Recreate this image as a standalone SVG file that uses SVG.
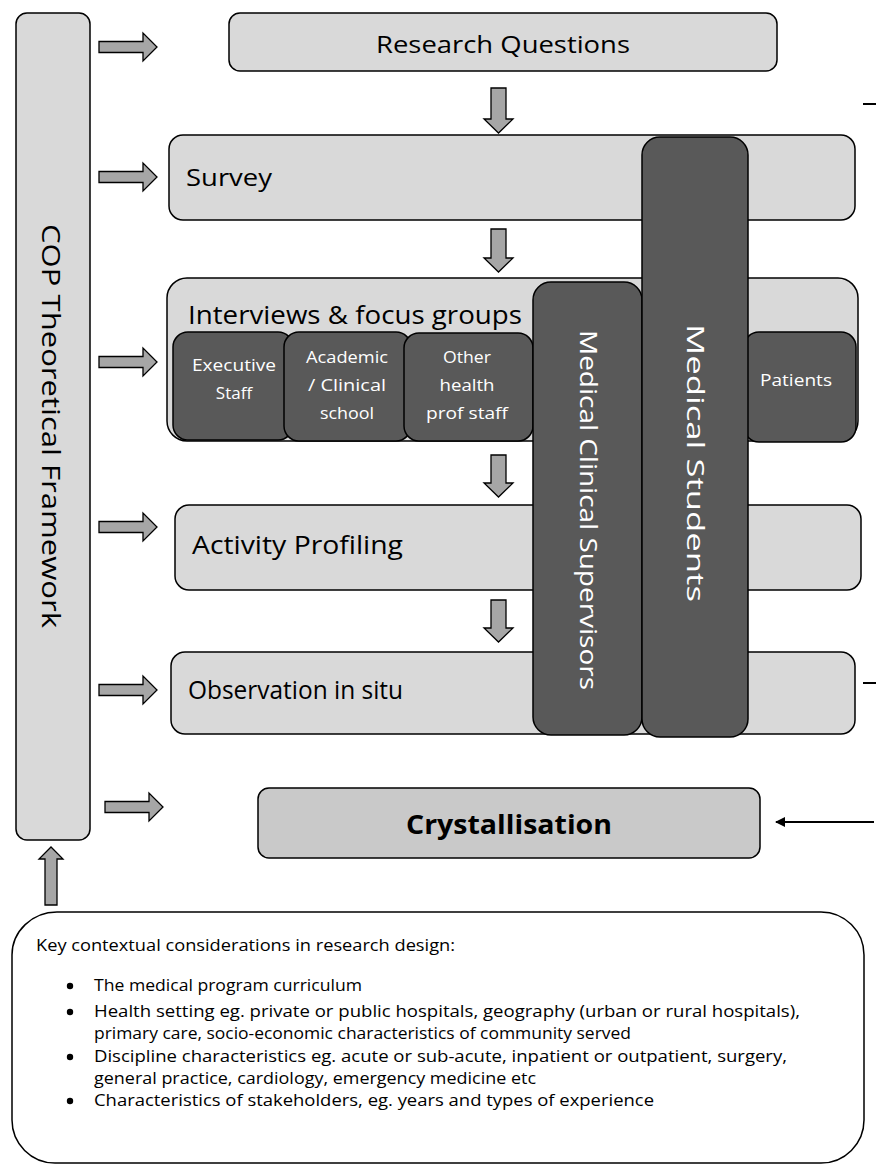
<svg xmlns="http://www.w3.org/2000/svg" width="876" height="1169" viewBox="0 0 876 1169">
<defs>
<style>
.lt{fill:#d9d9d9;stroke:#000;stroke-width:1.5}
.dk{fill:#595959;stroke:#000;stroke-width:1.5}
.ar{fill:#a6a6a6;stroke:#000;stroke-width:1.3}
.t{font-family:"Open Sans","Liberation Sans",sans-serif;fill:#000}
.w{font-family:"Open Sans","Liberation Sans",sans-serif;fill:#fff}
.ln{stroke:#000;stroke-width:2;fill:none}
</style>
<marker id="ah" viewBox="0 0 10 10" refX="9" refY="5" markerWidth="5" markerHeight="5" orient="auto" markerUnits="strokeWidth">
<path d="M0,0 L10,5 L0,10 z" fill="#000"/>
</marker>
</defs>
<rect width="876" height="1169" fill="#fff"/>

<g id="cop">
<rect class="lt" x="16" y="13" width="74" height="827" rx="11"/>
<text class="t" transform="translate(42,426) rotate(90)" font-size="25" text-anchor="middle" textLength="404" lengthAdjust="spacingAndGlyphs">COP Theoretical Framework</text>
</g>

<g id="research-questions">
<rect class="lt" x="229" y="13" width="548" height="58" rx="11"/>
<text class="t" x="503" y="53" font-size="24" text-anchor="middle" textLength="254" lengthAdjust="spacingAndGlyphs">Research Questions</text>
</g>

<g id="survey">
<rect class="lt" x="169" y="135" width="686" height="85" rx="14"/>
<text class="t" x="186" y="186" font-size="24" textLength="86" lengthAdjust="spacingAndGlyphs">Survey</text>
</g>

<g id="interviews">
<rect class="lt" x="167" y="278" width="691" height="163" rx="20"/>
<text class="t" x="188" y="324" font-size="26" textLength="334" lengthAdjust="spacingAndGlyphs">Interviews &amp; focus groups</text>
</g>

<g id="executive-staff">
<rect class="dk" x="173" y="332" width="120" height="108" rx="15"/>
<text class="w" x="234" y="371" font-size="17" text-anchor="middle" textLength="84" lengthAdjust="spacingAndGlyphs">Executive</text>
<text class="w" x="234" y="399" font-size="17" text-anchor="middle">Staff</text>
</g>

<g id="academic">
<rect class="dk" x="284" y="332" width="127" height="109" rx="15"/>
<text class="w" x="347" y="363" font-size="17" text-anchor="middle" textLength="82" lengthAdjust="spacingAndGlyphs">Academic</text>
<text class="w" x="347" y="391" font-size="17" text-anchor="middle" textLength="78" lengthAdjust="spacingAndGlyphs">/ Clinical</text>
<text class="w" x="347" y="419" font-size="17" text-anchor="middle" textLength="54" lengthAdjust="spacingAndGlyphs">school</text>
</g>

<g id="other-health">
<rect class="dk" x="404" y="333" width="129" height="108" rx="15"/>
<text class="w" x="467" y="363" font-size="17" text-anchor="middle" textLength="48" lengthAdjust="spacingAndGlyphs">Other</text>
<text class="w" x="467" y="391" font-size="17" text-anchor="middle" textLength="55" lengthAdjust="spacingAndGlyphs">health</text>
<text class="w" x="467" y="419" font-size="17" text-anchor="middle" textLength="82" lengthAdjust="spacingAndGlyphs">prof staff</text>
</g>

<g id="activity-profiling">
<rect class="lt" x="175" y="505" width="686" height="85" rx="14"/>
<text class="t" x="192" y="554" font-size="25" textLength="211" lengthAdjust="spacingAndGlyphs">Activity Profiling</text>
</g>

<g id="observation">
<rect class="lt" x="171" y="652" width="684" height="82" rx="14"/>
<text class="t" x="188" y="699" font-size="25" textLength="215" lengthAdjust="spacingAndGlyphs">Observation in situ</text>
</g>

<g id="patients">
<rect class="dk" x="744" y="332" width="112" height="110" rx="15"/>
<text class="w" x="796" y="386" font-size="17" text-anchor="middle" textLength="72" lengthAdjust="spacingAndGlyphs">Patients</text>
</g>

<g id="medical-clinical-supervisors">
<rect class="dk" x="533" y="282" width="109" height="453" rx="18"/>
<text class="w" transform="translate(580,510) rotate(90)" font-size="23" text-anchor="middle" textLength="360" lengthAdjust="spacingAndGlyphs">Medical Clinical Supervisors</text>
</g>

<g id="medical-students">
<rect class="dk" x="642" y="137" width="106" height="600" rx="18"/>
<text class="w" transform="translate(687,463) rotate(90)" font-size="23" text-anchor="middle" textLength="278" lengthAdjust="spacingAndGlyphs">Medical Students</text>
</g>

<g id="crystallisation">
<rect x="258" y="788" width="502" height="70" rx="11" fill="#c9c9c9" stroke="#000" stroke-width="1.5"/>
<text class="t" x="509" y="834" font-size="27" font-weight="bold" text-anchor="middle" textLength="206" lengthAdjust="spacingAndGlyphs">Crystallisation</text>
</g>

<g id="context">
<path d="M57,912 H821 A43,43 0 0 1 864,955 V1120 A43,43 0 0 1 821,1163 H55 A43,43 0 0 1 12,1120 V955 A45,43 0 0 1 57,912 Z" fill="#fff" stroke="#000" stroke-width="1.5"/>
<text class="t" x="36" y="951" font-size="16" textLength="419" lengthAdjust="spacingAndGlyphs">Key contextual considerations in research design:</text>
<g fill="#000">
<circle cx="70" cy="986" r="3.2"/>
<circle cx="70" cy="1012" r="3.2"/>
<circle cx="70" cy="1057" r="3.2"/>
<circle cx="70" cy="1101" r="3.2"/>
</g>
<text class="t" x="94" y="991" font-size="16" textLength="268" lengthAdjust="spacingAndGlyphs">The medical program curriculum</text>
<text class="t" x="94" y="1017" font-size="16" textLength="706" lengthAdjust="spacingAndGlyphs">Health setting eg. private or public hospitals, geography (urban or rural hospitals),</text>
<text class="t" x="94" y="1039" font-size="16" textLength="537" lengthAdjust="spacingAndGlyphs">primary care, socio-economic characteristics of community served</text>
<text class="t" x="94" y="1062" font-size="16" textLength="693" lengthAdjust="spacingAndGlyphs">Discipline characteristics eg. acute or sub-acute, inpatient or outpatient, surgery,</text>
<text class="t" x="94" y="1084" font-size="16" textLength="442" lengthAdjust="spacingAndGlyphs">general practice, cardiology, emergency medicine etc</text>
<text class="t" x="94" y="1106" font-size="16" textLength="560" lengthAdjust="spacingAndGlyphs">Characteristics of stakeholders, eg. years and types of experience</text>
</g>

<g id="connectors">
<path class="ar" d="M99,41.5 H143 V33 L157,47 L143,61 V52.5 H99 Z"/>
<path class="ar" d="M99,171.5 H143 V163 L157,177 L143,191 V182.5 H99 Z"/>
<path class="ar" d="M99,356.5 H143 V348 L157,362 L143,376 V367.5 H99 Z"/>
<path class="ar" d="M99,521.5 H143 V513 L157,527 L143,541 V532.5 H99 Z"/>
<path class="ar" d="M99,684.5 H143 V676 L157,690 L143,704 V695.5 H99 Z"/>
<path class="ar" d="M105,801.5 H149 V793 L163,807 L149,821 V812.5 H105 Z"/>
<path class="ar" d="M45,905 V859 H39 L51,847 L63,859 H57 V905 Z"/>
<path class="ar" d="M491,88 H506 V119 H513 L498.5,133 L484,119 H491 Z"/>
<path class="ar" d="M491,229 H506 V258 H513 L498.5,272 L484,258 H491 Z"/>
<path class="ar" d="M491,455 H506 V483 H513 L498.5,497 L484,483 H491 Z"/>
<path class="ar" d="M491,600 H506 V628 H513 L498.5,642 L484,628 H491 Z"/>
<line class="ln" x1="874" y1="822" x2="776" y2="822" marker-end="url(#ah)"/>
<line class="ln" x1="863" y1="104" x2="876" y2="104"/>
<line class="ln" x1="863" y1="683" x2="876" y2="683"/>
</g>
</svg>
